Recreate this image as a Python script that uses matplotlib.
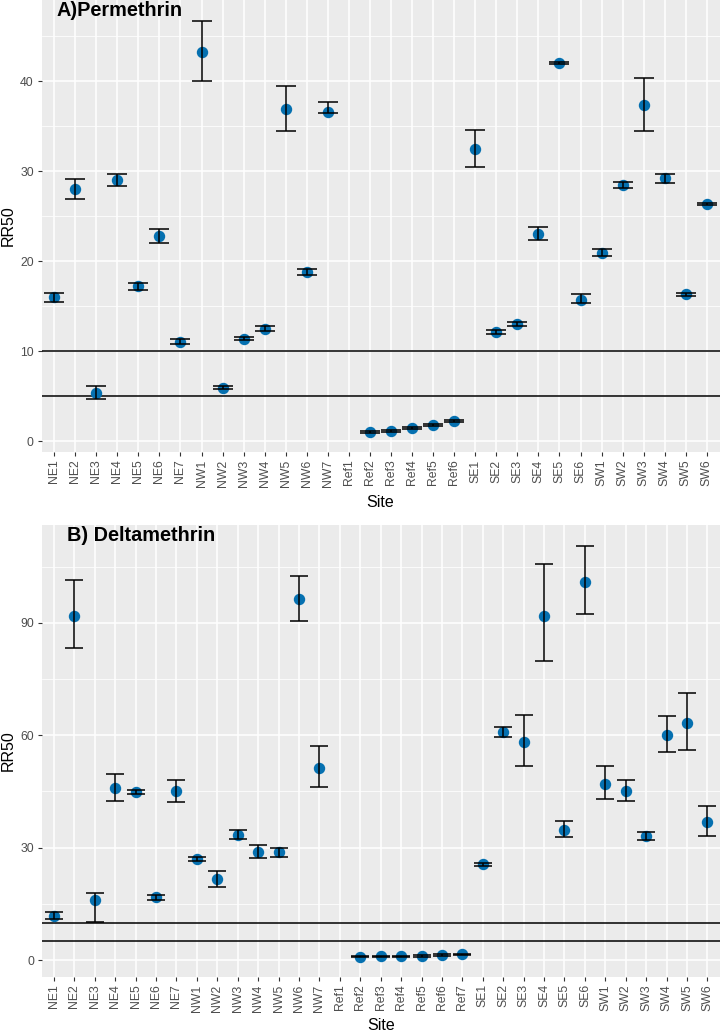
import numpy as np
import matplotlib
matplotlib.use("Agg")
import matplotlib.pyplot as plt
from matplotlib.ticker import MultipleLocator

plt.rcParams["font.family"] = ["Liberation Sans", "DejaVu Sans"]

# Panel A - Permethrin
perm_sites = ["NE1", "NE2", "NE3", "NE4", "NE5", "NE6", "NE7",
              "NW1", "NW2", "NW3", "NW4", "NW5", "NW6", "NW7",
              "Ref1", "Ref2", "Ref3", "Ref4", "Ref5", "Ref6",
              "SE1", "SE2", "SE3", "SE4", "SE5", "SE6",
              "SW1", "SW2", "SW3", "SW4", "SW5", "SW6"]
perm_rr50 = [16.0, 28.0, 5.4, 29.0, 17.2, 22.8, 11.0,
             43.2, 5.9, 11.4, 12.5, 36.9, 18.8, 36.6,
             np.nan, 1.0, 1.1, 1.5, 1.8, 2.2,
             32.4, 12.1, 13.0, 23.0, 42.0, 15.7,
             20.9, 28.4, 37.3, 29.2, 16.3, 26.3]
perm_low = [15.5, 26.9, 4.7, 28.3, 16.8, 22.0, 10.8,
            40.0, 5.75, 11.2, 12.2, 34.5, 18.5, 36.5,
            np.nan, 0.9, 1.0, 1.4, 1.7, 2.1,
            30.4, 11.9, 12.8, 22.4, 41.9, 15.3,
            20.6, 28.1, 34.5, 28.7, 16.15, 26.2]
perm_high = [16.5, 29.1, 6.1, 29.7, 17.6, 23.6, 11.3,
             46.7, 6.1, 11.6, 12.8, 39.5, 19.1, 37.7,
             np.nan, 1.1, 1.2, 1.6, 1.9, 2.35,
             34.6, 12.3, 13.2, 23.8, 42.1, 16.3,
             21.3, 28.8, 40.3, 29.7, 16.5, 26.4]

# Panel B - Deltamethrin
delt_sites = ["NE1", "NE2", "NE3", "NE4", "NE5", "NE6", "NE7",
              "NW1", "NW2", "NW3", "NW4", "NW5", "NW6", "NW7",
              "Ref1", "Ref2", "Ref3", "Ref4", "Ref5", "Ref6", "Ref7",
              "SE1", "SE2", "SE3", "SE4", "SE5", "SE6",
              "SW1", "SW2", "SW3", "SW4", "SW5", "SW6"]
delt_rr50 = [11.8, 91.9, 15.9, 45.9, 44.9, 16.7, 45.0,
             26.9, 21.5, 33.5, 28.8, 28.8, 96.3, 51.3,
             np.nan, 0.9, 1.0, 1.0, 1.1, 1.3, 1.5,
             25.5, 60.8, 58.2, 91.9, 34.8, 101.0,
             47.1, 45.2, 33.2, 60.1, 63.2, 36.9]
delt_low = [10.9, 83.4, 10.1, 42.5, 44.3, 16.0, 42.3,
            26.4, 19.5, 32.4, 27.1, 27.6, 90.5, 46.1,
            np.nan, 0.7, 0.8, 0.8, 0.9, 1.1, 1.3,
            25.1, 59.4, 51.9, 79.9, 32.8, 92.3,
            43.1, 42.4, 32.1, 55.4, 56.0, 33.2]
delt_high = [12.8, 101.5, 17.8, 49.6, 45.5, 17.4, 48.0,
             27.4, 23.8, 34.7, 30.7, 30.0, 102.6, 57.2,
             np.nan, 1.1, 1.2, 1.2, 1.3, 1.5, 1.7,
             26.0, 62.2, 65.4, 105.8, 37.0, 110.6,
             51.7, 48.1, 34.3, 65.2, 71.3, 41.2]

thresholds = [10, 5]

W, H = 720, 1032
fig = plt.figure(figsize=(W / 100, H / 100), dpi=100)


def draw_panel(rect, sites, rr50, low, high, title, title_x, ylim, major, capsize, xlab_y):
    ax = fig.add_axes(rect)
    ax.set_facecolor("#EBEBEB")
    for s in ax.spines.values():
        s.set_visible(False)
    rr50 = np.array(rr50)
    yerr = [rr50 - np.array(low), np.array(high) - rr50]
    ax.plot(sites, rr50, "o", color="#0570B0", markersize=7.2, zorder=3)
    ax.errorbar(sites, rr50, yerr=yerr, fmt="none", ecolor="black",
                elinewidth=1.1, capsize=capsize, capthick=1.1, zorder=4)
    for t in thresholds:
        ax.axhline(t, color="black", linewidth=1.1, zorder=2)
    n = len(sites)
    ax.set_xlim(-0.6, n - 0.4)
    ax.set_ylim(*ylim)
    ax.yaxis.set_major_locator(MultipleLocator(major))
    ax.yaxis.set_minor_locator(MultipleLocator(major / 2))
    ax.grid(True, which="major", color="white", linewidth=1.1, zorder=0)
    ax.grid(True, which="minor", axis="y", color="white", linewidth=0.55, zorder=0)
    ax.set_axisbelow(True)
    ax.tick_params(axis="both", which="major", length=3, width=0.8,
                   color="#333333", labelcolor="#4D4D4D", labelsize=8.8, pad=2.5)
    ax.tick_params(axis="y", which="minor", length=0)
    ax.tick_params(axis="x", labelrotation=90)
    ax.set_ylabel("RR50", fontsize=11.5)
    ax.yaxis.set_label_coords(-0.038, 0.5)
    ax.set_xlabel("Site", fontsize=11.5, va="baseline")
    ax.xaxis.set_label_coords(0.5, xlab_y)
    ax.text(title_x, 0.998, title, transform=ax.transAxes, fontsize=14.3,
            fontweight="bold", va="top", ha="left")
    return ax


draw_panel([41.5 / W, 1 - 452 / H, 678 / W, 452 / H],
           perm_sites, perm_rr50, perm_low, perm_high,
           "A)Permethrin", 0.022, (-1.2, 49.0), 10, 7.2, -0.1215)
draw_panel([41.7 / W, 1 - 976.7 / H, 678 / W, 451.7 / H],
           delt_sites, delt_rr50, delt_low, delt_high,
           "B) Deltamethrin", 0.038, (-4.45, 116.1), 30, 6.6, -0.118)

fig.savefig("out.png", dpi=100)
